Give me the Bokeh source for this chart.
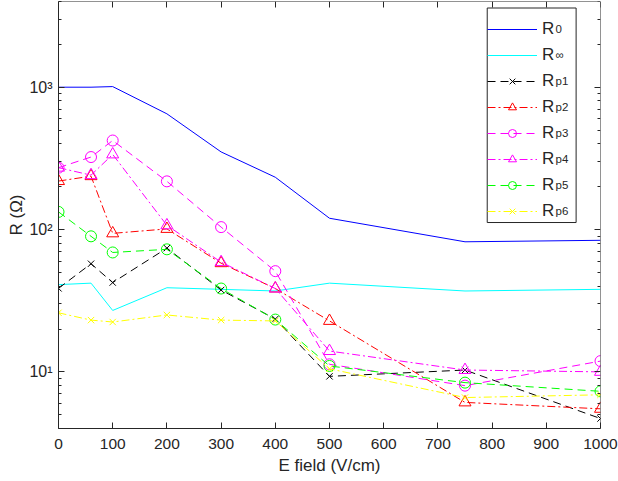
from bokeh.plotting import figure
from bokeh.models import (FixedTicker, LinearAxis, LogAxis, Legend, LegendItem, Label,
                          CustomLabelingPolicy, BoxAnnotation)
from bokeh.embed import file_html
from bokeh.resources import INLINE

# Electric field (V/cm)
e_field = [0, 60, 100, 200, 300, 400, 500, 750, 1000]

# Fitted resistances (Ohm)
r_0 = [1000, 1000, 1010, 650, 351, 233, 120, 82, 84]
r_inf = [41, 42, 27, 39, 38, 37, 42, 37, 38]
r_p1 = [38.6, 57.5, 42.4, 74, 37.6, 23.5, 9.3, 10.3, 4.7]
r_p2 = [219, 237, 94, 101, 58, 38.5, 22.8, 6.1, 5.5]
r_p3 = [272, 323, 422, 218, 104, 51, 11.3, 8.0, 11.9]
r_p4 = [272, 241, 337, 107, 59, 38.5, 14, 10.3, 10.0]
r_p5 = [133, 89.6, 69, 72.6, 38.5, 23.3, 11, 8.4, 7.3]
r_p6 = [26, 23.1, 22.4, 25.1, 23.1, 22.8, 10.5, 6.6, 6.9]

X_MIN, X_MAX = 0, 1000
Y_MIN, Y_MAX = 4, 4000
x_ticks = [0, 100, 200, 300, 400, 500, 600, 700, 800, 900, 1000]
y_ticks = [10, 100, 1000]
y_minor = [4, 5, 6, 7, 8, 9, 20, 30, 40, 50, 60, 70, 80, 90,
           200, 300, 400, 500, 600, 700, 800, 900, 2000, 3000, 4000]

FONT = "Liberation Sans"
AX = "#262626"

p = figure(width=618, height=481, x_range=(X_MIN, X_MAX), y_range=(Y_MIN, Y_MAX),
           y_axis_type="log", output_backend="svg", toolbar_location=None,
           min_border_left=58, min_border_right=18, min_border_top=1,
           min_border_bottom=53)
p.title.visible = False
p.grid.visible = False
p.outline_line_color = None
p.background_fill_color = "white"
p.border_fill_color = "white"

sup = {10: "10¹", 100: "10²", 1000: "10³"}


def style_axis(ax):
    ax.axis_line_color = AX
    ax.axis_line_width = 1
    ax.major_tick_line_color = AX
    ax.minor_tick_line_color = AX
    ax.major_tick_in = 6
    ax.major_tick_out = 0
    ax.minor_tick_in = 3
    ax.minor_tick_out = 0
    ax.major_label_text_font = FONT
    ax.major_label_text_color = AX
    ax.axis_label_text_font = FONT
    ax.axis_label_text_color = AX
    ax.axis_label_text_font_style = "normal"


def box_axis(ax):
    # tick marks only: the mirrored axes of the box carry no labels
    style_axis(ax)
    ax.major_label_text_font_size = "1px"
    ax.major_label_standoff = 0
    ax.axis_label_standoff = 0
    ax.major_label_policy = CustomLabelingPolicy(code="return []")


xa = p.xaxis[0]
xa.ticker = FixedTicker(ticks=x_ticks, minor_ticks=[])
style_axis(xa)
xa.major_label_text_font_size = "15.5px"
xa.major_label_standoff = 10
xa.axis_label = "E field (V/cm)"
xa.axis_label_text_font_size = "17px"
xa.axis_label_standoff = 4

ya = p.yaxis[0]
ya.ticker = FixedTicker(ticks=y_ticks, minor_ticks=y_minor)
style_axis(ya)
ya.major_label_overrides = sup
ya.major_label_text_font_size = "16px"
ya.major_label_standoff = 6
ya.axis_label = "R (Ω)"
ya.axis_label_text_font_size = "17px"
ya.axis_label_standoff = 0

# box edges: top and right axes pinned to the range limits
top = LinearAxis(ticker=FixedTicker(ticks=x_ticks, minor_ticks=[]), fixed_location=Y_MAX)
box_axis(top)
p.add_layout(top, "above")
right = LogAxis(ticker=FixedTicker(ticks=y_ticks, minor_ticks=y_minor), fixed_location=X_MAX)
box_axis(right)
p.add_layout(right, "right")

series = [
    (r_0, "#0000ff", "solid", None, 0),
    (r_inf, "#00ffff", "solid", None, 0),
    (r_p1, "#000000", "8 5", "x", 9),
    (r_p2, "#ff0000", "8 3 2 3", "triangle", 12),
    (r_p3, "#ff00ff", "8 5", "circle", 11),
    (r_p4, "#ff00ff", "8 3 2 3", "triangle", 12),
    (r_p5, "#00ff00", "8 5", "circle", 11),
    (r_p6, "#ffff00", "8 3 2 3", "x", 9),
]
subs = ["0", "∞", "p1", "p2", "p3", "p4", "p5", "p6"]

items = []
for vals, color, dash, marker, size in series:
    rs = [p.line(e_field, vals, line_color=color, line_width=1, line_dash=dash)]
    if marker is not None:
        rs.append(p.scatter(e_field, vals, marker=marker, size=size,
                            line_color=color, fill_color=None, line_width=1))
    items.append(LegendItem(label="R", renderers=rs))

# legend frame, spanned in axis coordinates
p.add_layout(BoxAnnotation(left=791, right=955, top=3600, bottom=112,
                           fill_color="white", fill_alpha=1,
                           line_color=AX, line_width=1, line_alpha=1))

legend = Legend(items=items, location=(429, 207), padding=5, spacing=6,
                glyph_width=50, glyph_height=20, label_height=20,
                label_width=24, label_standoff=5, margin=0,
                border_line_color=None, background_fill_alpha=0,
                label_text_font=FONT, label_text_font_size="17px",
                label_text_color=AX)
p.add_layout(legend)

# subscripts of the legend labels
for i, s in enumerate(subs):
    p.add_layout(Label(x=497, y=400 - 26 * i, x_units="screen", y_units="screen",
                       text=s, text_font=FONT, text_font_size="11.5px",
                       text_color=AX, text_baseline="middle", level="overlay"))

open("out.html", "w").write(file_html(p, INLINE))
